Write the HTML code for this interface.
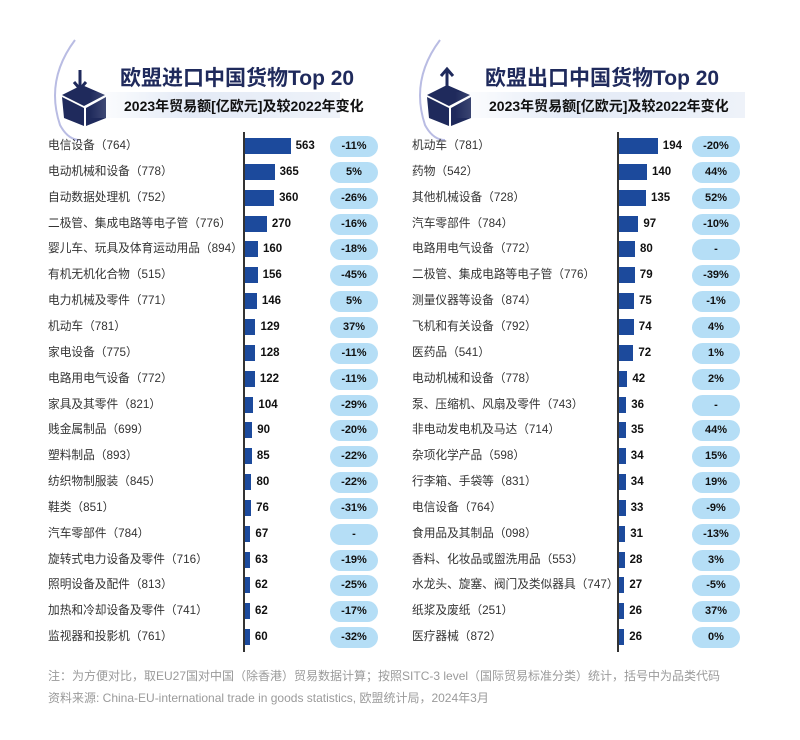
<!DOCTYPE html>
<html><head><meta charset="utf-8">
<style>
body{margin:0;width:800px;height:740px;background:#fff;font-family:"Liberation Sans","Noto Sans CJK SC",sans-serif;position:relative;overflow:hidden}
.t{position:absolute;color:#1f2a5c;font-weight:bold;white-space:nowrap}
.sub{position:absolute;height:26px;background:linear-gradient(90deg,rgba(220,230,245,0) 0%,#e3eaf6 40%,#eef2f9 100%);}
.lab{position:absolute;font-size:11.7px;color:#333;white-space:nowrap;line-height:16px}
.bar{position:absolute;background:#1c4a9c;height:16px}
.val{position:absolute;font-size:11.5px;font-weight:bold;color:#111;line-height:16px}
.pill{position:absolute;width:48px;height:21px;border-radius:11px;background:#b5def6;font-size:11px;font-weight:bold;text-align:center;line-height:21px;color:#111}
.axis{position:absolute;width:2px;background:#333}
.note{position:absolute;left:48px;font-size:12px;color:#9a9a9a;white-space:nowrap}
</style></head><body>
<svg style="position:absolute;left:0;top:0" width="800" height="200">
<path d="M75 40 Q45 80 60 125 Q68 140 80 140" fill="none" stroke="#8a8fd0" stroke-width="2" opacity="0.6"/>
<path d="M440 40 Q410 80 425 125 Q433 140 445 140" fill="none" stroke="#8a8fd0" stroke-width="2" opacity="0.6"/>
<g fill="#1f2a5c"><path d="M62 95 L82 85 L105 95 L84 106 Z M62 97 L84 108 L84 126 L64 118 Z M86 108 L106 97 L106 118 L86 126 Z"/><path d="M80 70 L80 88 M74 82 L80 89 L86 82" stroke="#1f2a5c" stroke-width="3" fill="none"/></g>
<g fill="#1f2a5c"><path d="M427 95 L447 85 L470 95 L449 106 Z M427 97 L449 108 L449 126 L429 118 Z M451 108 L471 97 L471 118 L451 126 Z"/><path d="M447 90 L447 70 M441 76 L447 69 L453 76" stroke="#1f2a5c" stroke-width="3" fill="none"/></g>
</svg>
<div class="t" style="left:120px;top:62px;font-size:21px">欧盟进口中国货物Top 20</div>
<div class="sub" style="left:90px;top:92px;width:250px"></div>
<div class="t" style="left:124px;top:96px;font-size:14px;color:#111">2023年贸易额[亿欧元]及较2022年变化</div>
<div class="t" style="left:485px;top:62px;font-size:21px">欧盟出口中国货物Top 20</div>
<div class="sub" style="left:455px;top:92px;width:290px"></div>
<div class="t" style="left:489px;top:96px;font-size:14px;color:#111">2023年贸易额[亿欧元]及较2022年变化</div>
<div id="c"></div>
<div class="note" style="top:667px">注：为方便对比，取EU27国对中国（除香港）贸易数据计算；按照SITC-3 level（国际贸易标准分类）统计，括号中为品类代码</div>
<div class="note" style="top:689px">资料来源: China-EU-international trade in goods statistics, 欧盟统计局，2024年3月</div>
<script>
const impCats=["电信设备（764）","电动机械和设备（778）","自动数据处理机（752）","二极管、集成电路等电子管（776）","婴儿车、玩具及体育运动用品（894）","有机无机化合物（515）","电力机械及零件（771）","机动车（781）","家电设备（775）","电路用电气设备（772）","家具及其零件（821）","贱金属制品（699）","塑料制品（893）","纺织物制服装（845）","鞋类（851）","汽车零部件（784）","旋转式电力设备及零件（716）","照明设备及配件（813）","加热和冷却设备及零件（741）","监视器和投影机（761）"];
const impVals=[563,365,360,270,160,156,146,129,128,122,104,90,85,80,76,67,63,62,62,60];
const impChg=["-11%","5%","-26%","-16%","-18%","-45%","5%","37%","-11%","-11%","-29%","-20%","-22%","-22%","-31%","-","-19%","-25%","-17%","-32%"];
const expCats=["机动车（781）","药物（542）","其他机械设备（728）","汽车零部件（784）","电路用电气设备（772）","二极管、集成电路等电子管（776）","测量仪器等设备（874）","飞机和有关设备（792）","医药品（541）","电动机械和设备（778）","泵、压缩机、风扇及零件（743）","非电动发电机及马达（714）","杂项化学产品（598）","行李箱、手袋等（831）","电信设备（764）","食用品及其制品（098）","香料、化妆品或盥洗用品（553）","水龙头、旋塞、阀门及类似器具（747）","纸浆及废纸（251）","医疗器械（872）"];
const expVals=[194,140,135,97,80,79,75,74,72,42,36,35,34,34,33,31,28,27,26,26];
const expChg=["-20%","44%","52%","-10%","-","-39%","-1%","4%","1%","2%","-","44%","15%","19%","-9%","-13%","3%","-5%","37%","0%"];
const c=document.getElementById('c');
function rowY(i){return 146+i*25.85;}
function panel(cats,vals,chg,labX,axX,scale,pillX,pre){
  const ax=document.createElement('div');ax.className='axis';
  
  
  ax.style.left=(axX-2)+'px';ax.style.top='132px';ax.style.height='520px';c.appendChild(ax);
  cats.forEach((n,i)=>{
    const y=rowY(i);
    const l=document.createElement('div');l.className='lab';l.textContent=n;
    
    
    l.style.left=labX+'px';l.style.top=(y-8)+'px';c.appendChild(l);
    const w=vals[i]*scale;
    const b=document.createElement('div');b.className='bar';
    
    
    b.style.left=axX+'px';b.style.top=(y-8)+'px';b.style.width=w+'px';c.appendChild(b);
    const v=document.createElement('div');v.className='val';v.textContent=vals[i];
    
    
    v.style.left=(axX+w+5)+'px';v.style.top=(y-8)+'px';c.appendChild(v);
    const p=document.createElement('div');p.className='pill';p.textContent=chg[i];
    
    
    p.style.left=pillX+'px';p.style.top=(y-10)+'px';c.appendChild(p);
  });
}
panel(impCats,impVals,impChg,48,245,0.081,330,'import');
panel(expCats,expVals,expChg,412,619,0.2,692,'export');
</script>
</body></html>
